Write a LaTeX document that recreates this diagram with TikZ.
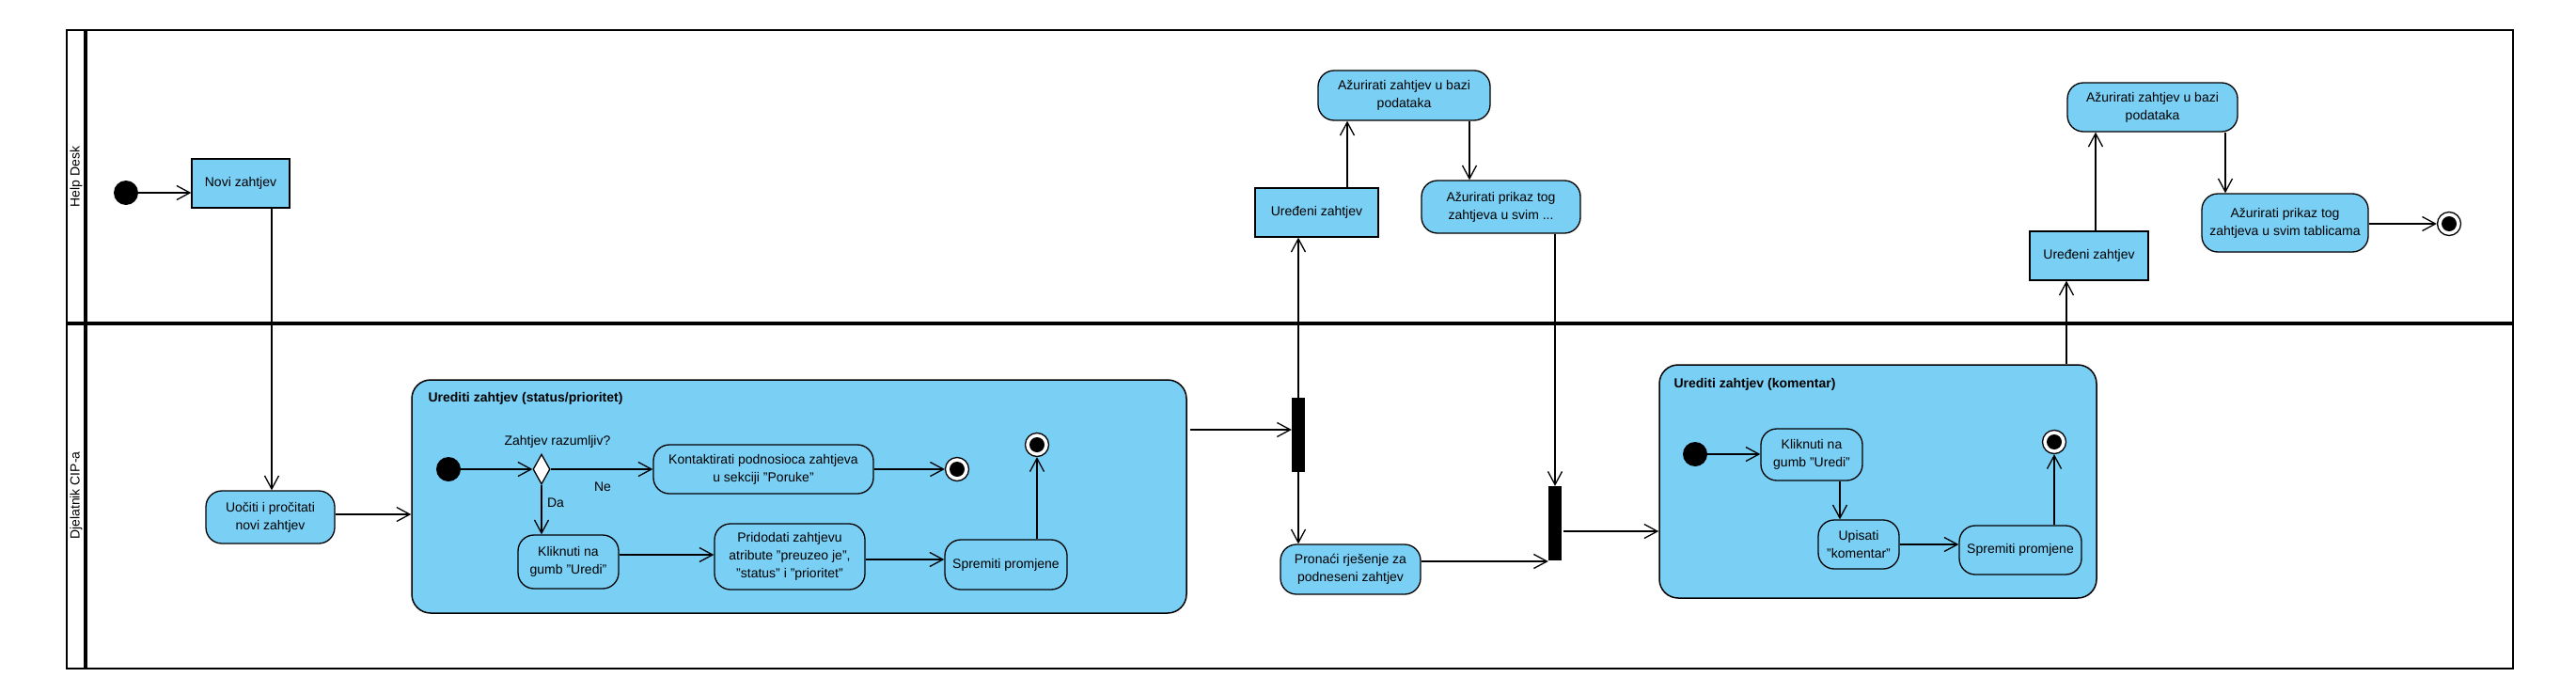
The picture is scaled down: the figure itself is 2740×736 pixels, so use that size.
\documentclass[tikz,border=0pt]{standalone}
\usepackage{fontspec}
\setmainfont{Liberation Sans}
\usetikzlibrary{arrows.meta,shapes.geometric}
\definecolor{nodeblue}{RGB}{122,207,245}
\tikzset{
  base/.style={font=\fontsize{14}{19}\selectfont},
  act/.style={draw, fill=nodeblue, rounded corners=17pt, line width=1.3pt, align=center, inner sep=2pt, base},
  obj/.style={draw, fill=nodeblue, line width=1.3pt, align=center, inner sep=2pt, base},
  initn/.style={circle, fill=black, minimum size=26pt, inner sep=0pt},
  finaln/.style={circle, draw, fill=white, line width=1.3pt, minimum size=25pt, inner sep=0pt,
     path picture={\fill[black] (path picture bounding box.center) circle (8pt);}},
  barn/.style={fill=black, draw=none, minimum width=14pt, minimum height=79pt, inner sep=0pt},
  decn/.style={draw, fill=white, line width=1.3pt, inner sep=0pt},
  flow/.style={line width=1.3pt, -{Straight Barb[length=14pt,width=15pt,line width=1.3pt]}},
  comp/.style={draw, fill=nodeblue, rounded corners=20pt, line width=1.5pt},
  lanelabel/.style={base, rotate=90},
  title/.style={font=\fontsize{14}{19}\selectfont\bfseries, anchor=base west},
}
\begin{document}
\begin{tikzpicture}[x=1pt, y=-1pt]
\useasboundingbox (0,0) rectangle (2740,736);
% swimlane frame
\draw[line width=2pt] (71,32) rectangle (2673,711);
\draw[line width=3.5pt] (91,32) -- (91,711);
\draw[line width=3.5pt] (71,344) -- (2673,344);
\node[lanelabel] (hd) at (81,188) {Help Desk};
\node[lanelabel] (dj) at (81,527) {Djelatnik CIP-a};

% ---------- Help Desk lane
\node[initn] (init1) at (134,205) {};
\node[obj, minimum width=104pt, minimum height=52pt] (novi) at (256,195) {Novi zahtjev};
\node[obj, minimum width=131pt, minimum height=52pt] (ur1) at (1400.5,226) {Uređeni zahtjev};
\node[act, minimum width=183pt, minimum height=53pt] (az1) at (1493.5,101.5) {Ažurirati zahtjev u bazi\\podataka};
\node[act, minimum width=169pt, minimum height=56pt] (prikaz1) at (1596.5,220) {Ažurirati prikaz tog\\zahtjeva u svim ...};
\node[obj, minimum width=126pt, minimum height=52pt] (ur2) at (2222,272) {Uređeni zahtjev};
\node[act, minimum width=181pt, minimum height=52pt] (az2) at (2289.5,114) {Ažurirati zahtjev u bazi\\podataka};
\node[act, minimum width=177pt, minimum height=62pt] (prikaz2) at (2430.5,237) {Ažurirati prikaz tog\\zahtjeva u svim tablicama};
\node[finaln] (fin3) at (2605,238) {};

% ---------- Djelatnik lane
\node[act, minimum width=137pt, minimum height=56pt] (uociti) at (287.5,550) {Uočiti i pročitati\\novi zahtjev};

% composite 1
\node[comp, minimum width=824pt, minimum height=248pt] (comp1) at (850,528) {};
\node[title] (t1) at (452,427) {Urediti zahtjev (status/prioritet)};
\node[initn] (init2) at (477,499) {};
\node[decn, diamond, minimum width=18pt, minimum height=32pt] (dec) at (576,499) {};
\node[base, anchor=base] (lq) at (593,473) {Zahtjev razumljiv?};
\node[base, anchor=base] (lne) at (641,522) {Ne};
\node[base, anchor=base] (lda) at (591,539) {Da};
\node[act, minimum width=234pt, minimum height=52pt] (kontakt) at (812,499) {Kontaktirati podnosioca zahtjeva\\u sekciji "Poruke"};
\node[finaln] (fin1a) at (1018,499) {};
\node[act, minimum width=107pt, minimum height=57pt] (klik1) at (604.5,597.5) {Kliknuti na\\gumb "Uredi"};
\node[act, minimum width=160pt, minimum height=70pt] (prid) at (840,592) {Pridodati zahtjevu\\atribute "preuzeo je",\\"status" i "prioritet"};
\node[act, minimum width=130pt, minimum height=53pt] (sprem1) at (1070,600.5) {Spremiti promjene};
\node[finaln] (fin1b) at (1103,473) {};

% fork / join
\node[barn] (fork1) at (1381,462.5) {};
\node[act, minimum width=149pt, minimum height=53pt] (pron) at (1436.5,605.5) {Pronaći rješenje za\\podneseni zahtjev};
\node[barn] (join2) at (1654,556.5) {};

% composite 2
\node[comp, minimum width=465pt, minimum height=248pt] (comp2) at (1997.5,512) {};
\node[title] (t2) at (1777,412) {Urediti zahtjev (komentar)};
\node[initn] (init3) at (1803,483) {};
\node[act, minimum width=108pt, minimum height=55pt] (klik2) at (1927,483.5) {Kliknuti na\\gumb "Uredi"};
\node[act, minimum width=86pt, minimum height=52pt] (upis) at (1977,579) {Upisati\\"komentar"};
\node[act, minimum width=130pt, minimum height=52pt] (sprem2) at (2149,585) {Spremiti promjene};
\node[finaln] (fin2) at (2185,470) {};

% ---------- helper coordinates
\coordinate (c1) at ([xshift=33pt]novi.south);
\coordinate (c2) at ([xshift=32.5pt]ur1.north);
\coordinate (c3) at ([xshift=69.5pt]az1.south);
\coordinate (c4) at ([xshift=30pt]klik2.south);
\coordinate (c5) at ([xshift=-24pt]ur2.south);
\coordinate (c6) at ([xshift=7pt]ur2.north);
\coordinate (c7) at ([xshift=77.5pt]az2.south);
\coordinate (c8) at ([yshift=5.5pt]fork1.west);
\coordinate (c9) at ([yshift=8.5pt]pron.east);
\coordinate (c10) at ([yshift=-8.5pt]join2.east);
\coordinate (c11) at ([yshift=3pt]uociti.east);
\coordinate (c12) at ([yshift=2pt]prid.west);
\coordinate (c13) at ([yshift=-3pt]prid.east);

% ---------- connectors
\draw[flow] (init1.east) -- (init1.east -| novi.west);
\draw[flow] (c1) -- (c1 |- uociti.north);
\draw[flow] (c11) -- (c11 -| comp1.west);
\draw[flow] (init2.east) -- (dec.west);
\draw[flow] (dec.east) -- (kontakt.west);
\draw[flow] (dec.south) -- (dec.south |- klik1.north);
\draw[flow] (kontakt.east) -- (fin1a.west);
\draw[flow] (c12 -| klik1.east) -- (c12);
\draw[flow] (c13) -- (c13 -| sprem1.west);
\draw[flow] (sprem1.north -| fin1b) -- (fin1b.south);
\draw[flow] ([xshift=3pt]c8 -| comp1.east) -- (c8);
\draw[flow] (fork1.north) -- (fork1.north |- ur1.south);
\draw[flow] (c2) -- (c2 |- az1.south);
\draw[flow] (c3) -- (c3 |- prikaz1.north);
\draw[flow] (join2.north |- prikaz1.south) -- (join2.north);
\draw[flow] (fork1.south) -- (fork1.south |- pron.north);
\draw[flow] (c9) -- (c9 -| join2.west);
\draw[flow] ([xshift=2pt]c10) -- (c10 -| comp2.west);
\draw[flow] (init3.east) -- (init3.east -| klik2.west);
\draw[flow] (c4) -- (c4 |- upis.north);
\draw[flow] (upis.east) -- (upis.east -| sprem2.west);
\draw[flow] (sprem2.north -| fin2) -- (fin2.south);
\draw[flow] (c5 |- comp2.north) -- (c5);
\draw[flow] (c6) -- (c6 |- az2.south);
\draw[flow] (c7) -- (c7 |- prikaz2.north);
\draw[flow] (prikaz2.east |- fin3) -- (fin3.west);
\end{tikzpicture}
\end{document}
